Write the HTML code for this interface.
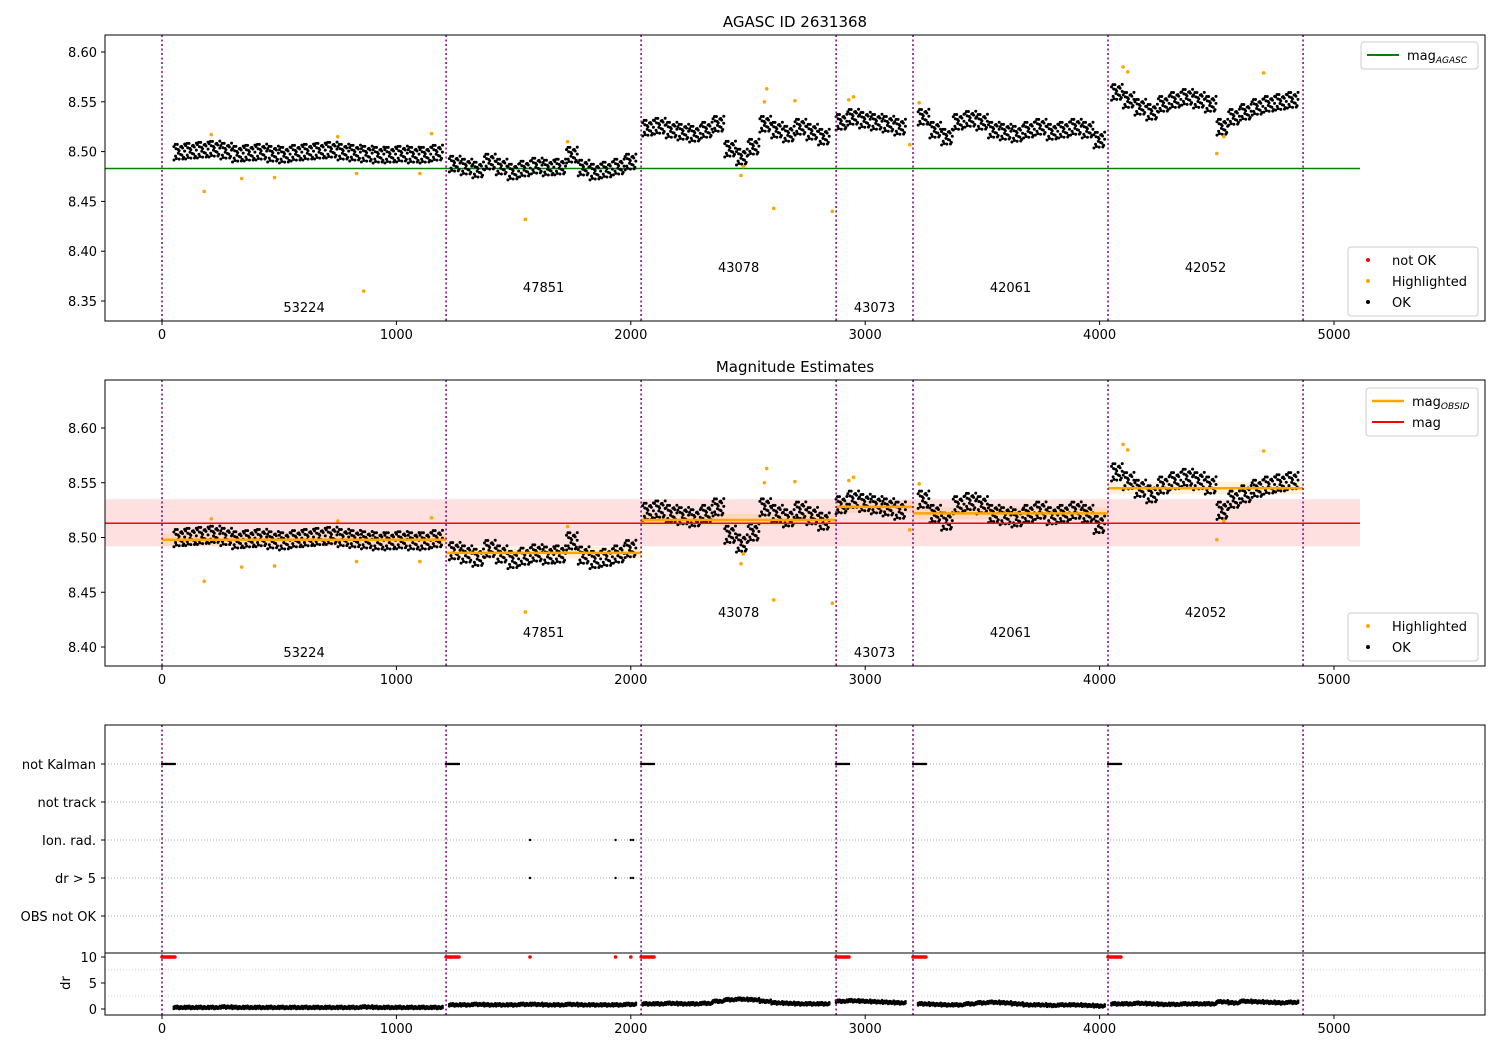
<!DOCTYPE html>
<html><head><meta charset="utf-8"><style>
body{margin:0;background:#fff;font-family:"Liberation Sans","DejaVu Sans",sans-serif}
svg text{font-family:"DejaVu Sans","Liberation Sans",sans-serif;font-size:13px;fill:#000}
</style></head><body>
<svg id="c" width="1500" height="1050" xmlns="http://www.w3.org/2000/svg"></svg>
<script>
const obsBounds=[0,1212,2044,2876,3204,4036,4868];
const obsLabels=["53224","47851","43078","43073","42061","42052"];
const obsMag=[8.498,8.486,8.516,8.528,8.522,8.545];
const magAgasc=8.483;
const magMean=8.513, magLo=8.492, magHi=8.535;
const magTimes=[75,125,175,225,275,325,375,425,475,525,575,625,675,725,775,825,875,925,975,1025,1075,1125,1175,
1250,1300,1350,1400,1450,1500,1550,1600,1650,1700,1750,1800,1850,1900,1950,2000,
2075,2125,2175,2225,2275,2325,2375,2425,2475,2525,2575,2625,2675,2725,2775,2825,
2900,2950,3000,3050,3100,3150,
3250,3300,3350,3400,3450,3500,3550,3600,3650,3700,3750,3800,3850,3900,3950,4000,
4075,4125,4175,4225,4275,4325,4375,4425,4475,4525,4575,4625,4675,4725,4775,4825];
const magValues=[8.500,8.501,8.502,8.503,8.501,8.498,8.499,8.500,8.498,8.497,8.499,8.500,8.501,8.502,8.500,8.499,8.498,8.497,8.497,8.498,8.497,8.497,8.499,
8.488,8.485,8.482,8.490,8.485,8.480,8.483,8.486,8.484,8.485,8.497,8.484,8.480,8.482,8.485,8.490,
8.524,8.526,8.522,8.520,8.518,8.522,8.528,8.503,8.495,8.505,8.528,8.522,8.518,8.525,8.520,8.515,
8.530,8.535,8.532,8.530,8.528,8.525,
8.535,8.522,8.515,8.530,8.533,8.530,8.522,8.520,8.518,8.522,8.525,8.520,8.522,8.525,8.522,8.512,
8.560,8.552,8.545,8.540,8.548,8.552,8.555,8.552,8.548,8.525,8.535,8.540,8.545,8.548,8.550,8.552];
const drValues=[0.3,0.3,0.3,0.3,0.4,0.3,0.3,0.3,0.3,0.3,0.3,0.3,0.3,0.3,0.3,0.3,0.4,0.3,0.3,0.3,0.3,0.3,0.3,
0.8,0.8,0.9,0.8,0.8,0.8,0.9,0.9,0.8,0.8,0.9,0.8,0.8,0.8,0.8,0.9,
1.0,1.0,1.1,1.0,1.0,1.1,1.5,1.8,1.9,1.8,1.5,1.2,1.1,1.0,1.0,1.0,
1.5,1.6,1.5,1.4,1.3,1.2,
1.0,0.9,0.8,0.8,1.0,1.2,1.3,1.2,1.0,0.8,0.8,0.7,0.8,0.8,0.7,0.6,
1.0,1.0,1.1,1.0,0.9,0.9,1.0,1.0,1.0,1.4,1.2,1.5,1.4,1.3,1.2,1.3];
const hlTimes=[180,210,340,480,750,830,860,1100,1150,1550,1730,2470,2480,2570,2580,2610,2700,2860,2930,2950,3190,3230,4100,4120,4500,4530,4700];
const hlValues=[8.46,8.517,8.473,8.474,8.515,8.478,8.36,8.478,8.518,8.432,8.51,8.476,8.485,8.55,8.563,8.443,8.551,8.44,8.552,8.555,8.507,8.549,8.585,8.58,8.498,8.515,8.579];
const flagRows=["not Kalman","not track","Ion. rad.","dr > 5","OBS not OK"];
const ionTimes=[1570,1935,2000,2010];
const magTicks1=[8.35,8.40,8.45,8.50,8.55,8.60];
const magTicks2=[8.40,8.45,8.50,8.55,8.60];
const xTicks=[0,1000,2000,3000,4000,5000];
const drTicks=[0,5,10];

const NS="http://www.w3.org/2000/svg";
const svg=document.getElementById('c');
function el(t,a,p){const e=document.createElementNS(NS,t);for(const k in a)e.setAttribute(k,a[k]);(p||svg).appendChild(e);return e;}
const X=v=>162+v*0.2344;
function Y1(v){return 52+(8.60-v)/0.05*49.8;}
function Y2(v){return 428+(8.60-v)/0.05*54.75;}
function YD(v){return 1009-v*5.2;}
const jit=[-0.9,0.4,-0.2,0.8,-0.6,0.1,0.95,-0.4,0.6,-1,0.3,-0.7,0.7,-0.1,0.5,-0.85,0.15,-0.5,0.9,-0.3];
const jx=[0.3,-0.6,0.9,-0.2,0.5,-0.9,0.1,0.7,-0.4,0.2,-0.7,0.6,-0.1,0.8,-0.5,0.4,-0.8,0,0.55,-0.35];
const N=20;
const L=105,R=1485;

function clipFor(id,top,bot){const cp=el('clipPath',{id:id});el('rect',{x:L,y:top,width:R-L,height:bot-top},cp);}
clipFor('c1',35,321);clipFor('c2',380,666);clipFor('c3',953,1015);

function xAxis(bot,g){
  xTicks.forEach(t=>{el('line',{x1:X(t),x2:X(t),y1:bot,y2:bot+4,stroke:'#000'},g);
    const tx=el('text',{x:X(t),y:bot+18,'text-anchor':'middle'},g);tx.textContent=t;
    
    });
}
function vlines(top,bot,g){obsBounds.forEach(b=>{const l=el('line',{x1:X(b),x2:X(b),y1:top,y2:bot,stroke:'#800080','stroke-width':1.5,'stroke-dasharray':'2,2.5'},g);
  
  });}
function scatter(g,Y,clip){
  const gg=el('g',{'clip-path':'url(#'+clip+')'},g);
  magTimes.forEach((t,i)=>{for(let k=0;k<N;k++){const x=t-25+k*2.5+jx[k]*3;const y=magValues[i]+jit[k]*0.008+jit[(k+7)%N]*0.003;
    const c=el('circle',{cx:X(x),cy:Y(y),r:1.5,fill:'#000'},gg);
    
    }});
  hlTimes.forEach((t,i)=>{const c=el('circle',{cx:X(t),cy:Y(hlValues[i]),r:1.8,fill:'orange'},gg);
    
    });
}
function yTicks(ticks,Y,g,fmt){ticks.forEach(t=>{el('line',{x1:L-4,x2:L,y1:Y(t),y2:Y(t),stroke:'#000'},g);
  const tx=el('text',{x:L-8,y:Y(t)+5,'text-anchor':'end'},g);tx.textContent=fmt(t);
  
  });}
function obsText(g,Y,base){obsLabels.forEach((s,i)=>{const mid=(obsBounds[i]+obsBounds[i+1])/2;const yy=[0,1,2,0,1,2][i];
  const tx=el('text',{x:X(mid),y:base-yy*20,'text-anchor':'middle'},g);tx.textContent=s;
  
  });}
function legend(g,x,y,w,items){el('rect',{x:x,y:y,width:w,height:items.length*21+6,fill:'#fff',stroke:'#ccc',rx:3},g);
  items.forEach((it,i)=>{const cy=y+13+i*21;
    if(it.type==='line')el('line',{x1:x+6,x2:x+38,y1:cy,y2:cy,stroke:it.c,'stroke-width':it.w||2},g);
    else el('circle',{cx:x+20,cy:cy,r:2,fill:it.c},g);
    const tx=el('text',{x:x+(it.type==='line'?46:44),y:cy+5},g);tx.innerHTML=it.t;
    
    });}

// Panel 1
const g1=el('g',{});
let t=el('text',{x:795,y:27,'text-anchor':'middle',style:'font-size:15px'},g1);t.textContent='AGASC ID 2631368';

el('line',{x1:105,x2:1360,y1:Y1(magAgasc),y2:Y1(magAgasc),stroke:'green','stroke-width':1.5},g1);
scatter(g1,Y1,'c1');vlines(35,321,g1);
el('rect',{x:L,y:35,width:R-L,height:286,fill:'none',stroke:'#000'},g1);
yTicks(magTicks1,Y1,g1,v=>v.toFixed(2));xAxis(321,g1);obsText(g1,Y1,312);
legend(g1,1361,42,117,[{type:'line',c:'green',t:'mag<tspan font-size="9" font-style="italic" dy="3">AGASC</tspan>'}]);
legend(g1,1348,247,130,[{c:'red',t:'not OK'},{c:'orange',t:'Highlighted'},{c:'#000',t:'OK'}]);

// Panel 2
const g2=el('g',{});
t=el('text',{x:795,y:372,'text-anchor':'middle',style:'font-size:15px'},g2);t.textContent='Magnitude Estimates';

el('rect',{x:105,y:Y2(magHi),width:1255,height:Y2(magLo)-Y2(magHi),fill:'rgba(255,0,0,0.12)'},g2);
obsMag.forEach((m,i)=>{el('rect',{x:X(obsBounds[i]),y:Y2(m)-6,width:X(obsBounds[i+1])-X(obsBounds[i]),height:12,fill:'rgba(255,165,0,0.15)'},g2);});
scatter(g2,Y2,'c2');
el('line',{x1:105,x2:1360,y1:Y2(magMean),y2:Y2(magMean),stroke:'red','stroke-width':1.5},g2);
obsMag.forEach((m,i)=>{const l=el('line',{x1:X(obsBounds[i]),x2:X(obsBounds[i+1]),y1:Y2(m),y2:Y2(m),stroke:'orange','stroke-width':2.5},g2);
  });
vlines(380,666,g2);
el('rect',{x:L,y:380,width:R-L,height:286,fill:'none',stroke:'#000'},g2);
yTicks(magTicks2,Y2,g2,v=>v.toFixed(2));xAxis(666,g2);obsText(g2,Y2,657);
legend(g2,1366,388,112,[{type:'line',c:'orange',w:2.5,t:'mag<tspan font-size="9" font-style="italic" dy="3">OBSID</tspan>'},{type:'line',c:'red',t:'mag'}]);
legend(g2,1348,613,130,[{c:'orange',t:'Highlighted'},{c:'#000',t:'OK'}]);

// Panel 3 flags
const g3=el('g',{});
flagRows.forEach((f,i)=>{const y=764+i*38;el('line',{x1:L,x2:R,y1:y,y2:y,stroke:'#aaa','stroke-dasharray':'1,2'},g3);
  el('line',{x1:L-4,x2:L,y1:y,y2:y,stroke:'#000'},g3);
  const tx=el('text',{x:L-9,y:y+5,'text-anchor':'end'},g3);tx.textContent=f;
  });
obsBounds.slice(0,6).forEach(b=>{for(let k=0;k<12;k++){el('circle',{cx:X(b+k*5),cy:764,r:1.2,fill:'#000'},g3);
  el('circle',{cx:X(b+k*5),cy:YD(10),r:1.8,fill:'red'},g3);}});
ionTimes.forEach(tt=>{el('circle',{cx:X(tt),cy:840,r:1.2,fill:'#000'},g3);el('circle',{cx:X(tt),cy:878,r:1.2,fill:'#000'},g3);
  if(tt!==2010)el('circle',{cx:X(tt),cy:YD(10),r:1.8,fill:'red'},g3);});
const gd=el('g',{'clip-path':'url(#c3)'},g3);
magTimes.forEach((tt,i)=>{for(let k=0;k<N;k++){const c=el('circle',{cx:X(tt-25+k*2.5+jx[k]*3),cy:YD(drValues[i]+jit[k]*0.3),r:1.4,fill:'#000'},gd);
  }});
[2.5,7.5].forEach(v=>el('line',{x1:L,x2:R,y1:YD(v),y2:YD(v),stroke:'#ccc','stroke-dasharray':'1,2'},g3));
vlines(725,1015,g3);
el('rect',{x:L,y:725,width:R-L,height:290,fill:'none',stroke:'#000'},g3);
el('line',{x1:L,x2:R,y1:953,y2:953,stroke:'#000'},g3);
yTicks(drTicks,YD,g3,v=>v);
t=el('text',{x:70,y:983,'text-anchor':'middle',transform:'rotate(-90 70 983)'},g3);t.textContent='dr';

xAxis(1015,g3);
</script>
</body></html>
